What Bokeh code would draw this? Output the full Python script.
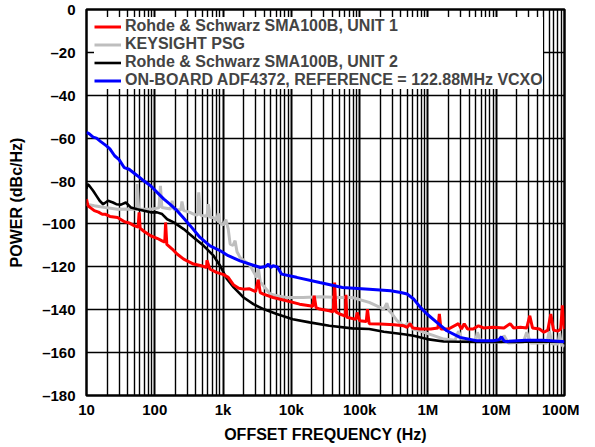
from bokeh.plotting import figure
from bokeh.models import FixedTicker
from bokeh.embed import file_html
from bokeh.resources import INLINE

# ---------------- data ----------------
red_f = [10, 10.5, 11.5, 13, 15, 17, 19, 22, 28.5, 36, 42, 49.8, 57, 59, 61, 70, 87, 110, 128, 140, 144,
         150, 180, 212, 265, 370, 480, 575, 580, 640, 800, 1000, 1190, 1430, 1700, 2000, 2400, 2780, 3000,
         3270, 3500, 3900, 5400, 8500, 13200, 18500, 20500, 21600, 23000, 26000, 36000, 41000, 43000,
         45000, 51000, 62000, 63000, 65000, 88000, 92000, 100000, 125000, 130000, 138000, 200000, 318000,
         444000, 496000, 550000, 600000, 776000, 1.1e6, 1.4e6, 1.47e6, 1.55e6, 2e6, 2.8e6, 3.1e6, 3.4e6,
         3.8e6, 4.6e6, 5.5e6, 6.5e6, 9e6, 13e6, 16e6, 18e6, 22.6e6, 28e6, 31e6, 34e6, 43e6, 50e6, 57e6,
         63e6, 69e6, 80e6, 88e6, 93e6, 100e6]
red_p = [-88.4, -91.5, -92.5, -93.8, -94.5, -95.5, -95.5, -96.5, -97, -99, -99.5, -100.8, -101.5, -94.6,
         -102, -103.5, -105.5, -106.8, -107.9, -108.5, -99.3, -109.5, -111.7, -114, -116.4, -118.7, -119.5,
         -120.3, -116.9, -121, -122.6, -123.5, -124.9, -128.5, -130, -130.4, -130.2, -131.1, -131.5, -126,
         -132, -132.7, -134.3, -135.8, -137.4, -138.1, -138.5, -133.5, -139, -139.7, -140.5, -141, -127.3,
         -141, -142, -143, -133, -143.5, -144.5, -141.3, -145.1, -145.5, -139.7, -146.5, -146.7, -147,
         -147.5, -148.2, -146.5, -148.5, -149, -149, -148.5, -142, -149, -149, -146.5, -149, -146.5, -149,
         -149, -147.5, -148.5, -148.2, -148.5, -146.5, -148.5, -148.2, -148.5, -142.8, -148.5, -149, -150.5,
         -149.5, -142, -149.5, -150, -149, -138, -149]

gray_f = [10, 13, 16, 20, 28.5, 40, 54, 55.6, 58, 70, 87, 115, 121, 127, 170, 180, 190, 240, 250, 265, 320,
          370, 420, 440, 470, 520, 580, 610, 650, 725, 800, 850, 900, 1000, 1100, 1190, 1270, 1400, 1500,
          1600, 1770, 2500, 3100, 3300, 3500, 3900, 4900, 6100, 8500, 14800, 26000, 51000, 78000, 138000,
          226000, 250000, 270000, 300000, 350000, 444000, 550000, 600000, 776000, 1.22e6, 1.7e6, 2.5e6,
          2.8e6, 3.2e6, 5e6, 5.3e6, 6e6, 12e6, 13e6, 15e6, 25e6, 28e6, 32e6, 55e6, 60e6, 66e6, 80e6, 85e6,
          90e6, 100e6]
gray_p = [-90.8, -91.5, -92, -92.5, -93.1, -93, -93.1, -81.4, -93.1, -93.1, -93.1, -92.5, -82.2, -92.3,
          -93, -89.2, -93.1, -93.5, -89.5, -93.8, -94.5, -95.4, -96, -85.3, -96, -96.2, -96.5, -90.8, -97,
          -97, -98.5, -95, -99.5, -100.5, -98, -102.4, -109.4, -110, -107.8, -113, -115.6, -119.5, -124.9,
          -121, -127, -128.8, -132.7, -133.5, -134.3, -134.3, -134, -134.3, -134.3, -136.6, -139.7, -137,
          -140.5, -142, -145, -147.5, -146, -149, -150, -152.1, -153.7, -154.2, -150, -154.5, -154.5,
          -150.5, -155, -155, -152, -155.5, -155, -150.5, -155.5, -155.5, -150, -156, -156, -151, -156.5,
          -157]

black_f = [10, 10.4, 11, 12.5, 14, 15.6, 17.5, 20.7, 24.4, 27.3, 32, 37.7, 44.5, 55.6, 69.5, 87, 108, 128,
           152, 190, 265, 370, 520, 725, 905, 1140, 1430, 2000, 2780, 3900, 6100, 10500, 18500, 36000,
           78000, 138000, 226000, 444000, 617000, 968000, 1.7e6, 5e6, 20e6, 50e6, 100e6]
black_p = [-83.5, -81.4, -82.2, -84.5, -86.9, -89.2, -90.8, -89.2, -90, -90.8, -91, -90, -92.3, -93.1,
           -93.8, -94.6, -94.6, -95.4, -97.8, -99.3, -102.4, -106.3, -110.2, -114.8, -119.5, -125.7, -129.6,
           -134.3, -137.4, -139.7, -142, -144.4, -145.9, -147.5, -148.7, -149, -150.3, -151.4, -152.1,
           -153.7, -154.8, -155, -155, -154.8, -155]

blue_f = [10, 11, 12.5, 14, 16, 19.6, 22, 25.8, 30, 35.6, 42, 55.6, 66.5, 87, 110, 136, 170, 212, 260,
          330, 460, 645, 910, 1190, 1770, 3500, 4200, 4600, 5000, 5400, 6200, 7200, 11900, 26000, 56000,
          138000, 284000, 400000, 496000, 617000, 776000, 968000, 1.35e6, 1.89e6, 2.95e6, 5.14e6, 9e6, 11e6,
          11.9e6, 13e6, 14e6, 27.4e6, 48e6, 93e6, 100e6]
blue_p = [-57.3, -58, -59.5, -60, -61.5, -63.6, -65, -68.2, -70, -73.7, -74.5, -77.5, -79.5, -82.2, -85.5,
          -88.4, -91, -93.8, -97, -100.8, -106.3, -110.2, -112.5, -114.8, -117.2, -120.3, -119.8, -118.7,
          -120.3, -119.5, -120, -123.4, -124.9, -127.3, -129.6, -130.4, -131.2, -132, -132.7, -135, -138.9,
          -142, -145.9, -149.8, -152.9, -154.5, -154.5, -154, -152.6, -154.5, -154.8, -154.2, -154.2,
          -154.8, -155]

series_labels = ["Rohde & Schwarz SMA100B, UNIT 1", "KEYSIGHT PSG", "Rohde & Schwarz SMA100B, UNIT 2",
                 "ON-BOARD ADF4372, REFERENCE = 122.88MHz VCXO"]

x_ticks = [10, 100, 1e3, 1e4, 1e5, 1e6, 1e7, 1e8]
x_tick_labels = ["10", "100", "1k", "10k", "100k", "1M", "10M", "100M"]
y_ticks = [0, -20, -40, -60, -80, -100, -120, -140, -160, -180]
y_tick_labels = ["0", "–20", "–40", "–60", "–80", "–100", "–120", "–140", "–160", "–180"]

FONT = "Liberation Sans"

p = figure(frame_width=478, frame_height=386, x_axis_type="log", x_range=(10, 1e8), y_range=(-180, 0),
           output_backend="svg", toolbar_location=None,
           min_border_left=86, min_border_right=15, min_border_top=9, min_border_bottom=36)

minor = [m * d for d in x_ticks[:-1] for m in range(2, 10)]
p.xaxis.ticker = FixedTicker(ticks=x_ticks, minor_ticks=minor)
p.xaxis.major_label_overrides = {t: l for t, l in zip(x_ticks, x_tick_labels)}
p.yaxis.ticker = FixedTicker(ticks=y_ticks)
p.yaxis.major_label_overrides = {t: l for t, l in zip(y_ticks, y_tick_labels)}

for ax in (p.xaxis, p.yaxis):
    ax.major_tick_line_color = None
    ax.minor_tick_line_color = None
    ax.major_tick_out = 0
    ax.major_tick_in = 0
    ax.minor_tick_out = 0
    ax.minor_tick_in = 0
    ax.axis_line_color = None
    ax.major_label_text_font = FONT
    ax.major_label_text_font_style = "bold"
    ax.major_label_text_font_size = "15px"
    ax.major_label_text_color = "black"
    ax.axis_label_text_font = FONT
    ax.axis_label_text_font_style = "bold"
    ax.axis_label_text_font_size = "16px"
    ax.axis_label_text_color = "black"

p.xaxis.axis_label = "OFFSET FREQUENCY (Hz)"
p.yaxis.axis_label = "POWER (dBc/Hz)"
p.xaxis.major_label_standoff = 5
p.xaxis.axis_label_standoff = 5
p.yaxis.major_label_standoff = 11
p.yaxis.axis_label_standoff = 14

p.xgrid.grid_line_color = "black"
p.xgrid.grid_line_width = 2
p.xgrid.minor_grid_line_color = "black"
p.xgrid.minor_grid_line_width = 1.4
p.ygrid.grid_line_color = "black"
p.ygrid.grid_line_width = 1.6

p.outline_line_color = "black"
p.outline_line_width = 2.5
p.background_fill_color = "white"
p.border_fill_color = "white"

p.line(gray_f, gray_p, color="#BEBEBE", line_width=3, legend_label=series_labels[1])
p.line(black_f, black_p, color="black", line_width=2.6, legend_label=series_labels[2])
p.line(red_f, red_p, color="#FF0000", line_width=3, legend_label=series_labels[0])
p.line(blue_f, blue_p, color="#0000FF", line_width=3, legend_label=series_labels[3])

# reorder legend items to match reference
items = p.legend[0].items
order = {series_labels[i]: i for i in range(4)}
p.legend[0].items = sorted(items, key=lambda it: order[it.label.value])

lg = p.legend[0]
lg.location = "top_left"
lg.margin = 8
lg.padding = 3
lg.spacing = -3
lg.border_line_color = None
lg.background_fill_color = "white"
lg.background_fill_alpha = 1
lg.label_text_font = FONT
lg.label_text_font_style = "bold"
lg.label_text_font_size = "16px"
lg.label_text_line_height = 0.75
lg.label_height = 15
lg.glyph_height = 15
lg.glyph_width = 27
lg.label_standoff = 4

open("out.html", "w").write(file_html(p, INLINE))
